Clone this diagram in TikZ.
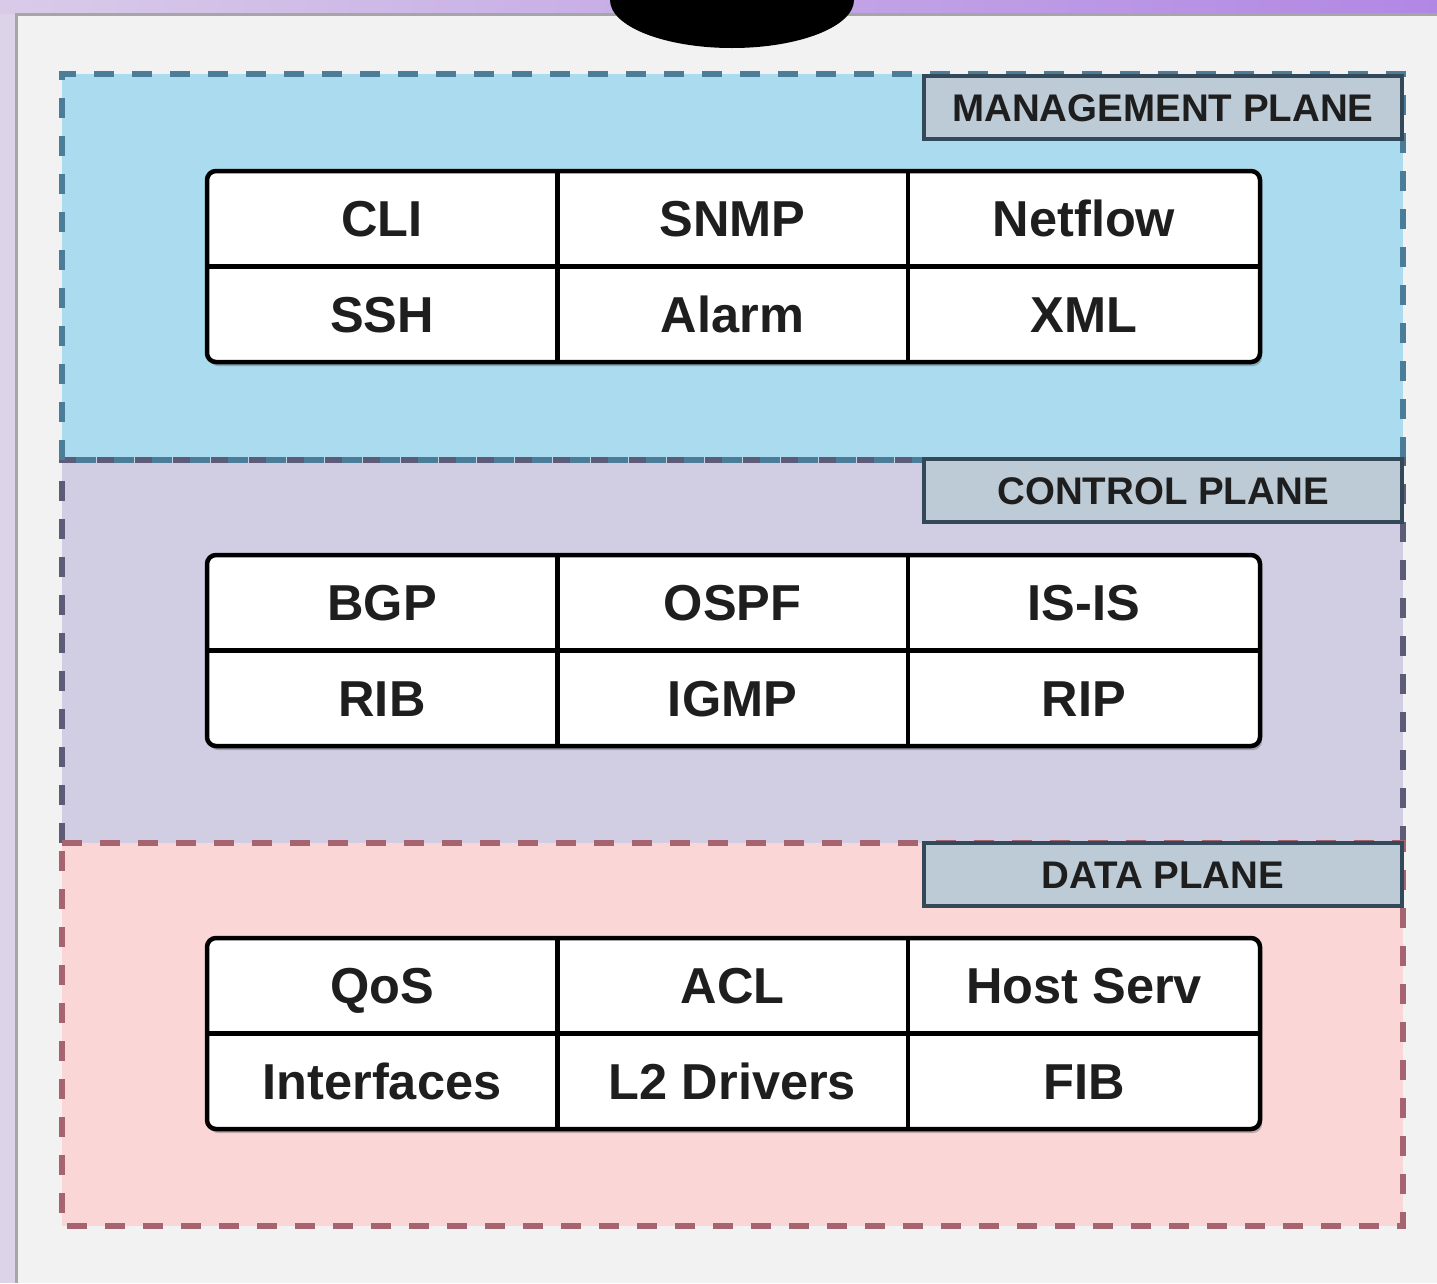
\documentclass[tikz,border=0pt]{standalone}
\usepackage{fontspec}
\setmainfont{Liberation Sans}
\usetikzlibrary{shadows}
\definecolor{frameL}{HTML}{DCD3E8}
\definecolor{stripL}{HTML}{D9CBE8}
\definecolor{stripR}{HTML}{B187E4}
\definecolor{panel}{HTML}{F2F2F2}
\definecolor{mgmtfill}{HTML}{AADBEE}
\definecolor{mgmtdash}{HTML}{4C7D98}
\definecolor{ctrlfill}{HTML}{D1CDE3}
\definecolor{ctrldash}{HTML}{5C5C78}
\definecolor{datafill}{HTML}{FAD6D6}
\definecolor{datadash}{HTML}{A5646F}
\definecolor{labfill}{HTML}{BDCBD7}
\definecolor{labline}{HTML}{33495A}
\definecolor{txt}{HTML}{1E1E1E}
\newcommand\mktable[8]{%
  % #1 prefix, #2 top y, #3..#8 labels
  \draw[tblframe] (207,#2) rectangle (1260,#2+191);
  \node[cell] (#1a) at (382,#2+47.5) {#3};
  \node[cell] (#1b) at (732.5,#2+47.5) {#4};
  \node[cell] (#1c) at (1084,#2+47.5) {#5};
  \node[cell] (#1d) at (382,#2+143) {#6};
  \node[cell] (#1e) at (732.5,#2+143) {#7};
  \node[cell] (#1f) at (1084,#2+143) {#8};
  \draw[tblline] (#1a.south west) -- (#1c.south east);
  \draw[tblline] (#1a.north east) -- (#1d.south east);
  \draw[tblline] (#1b.north east) -- (#1e.south east);
}
\begin{document}
\begin{tikzpicture}[x=1pt,y=-1pt,
  plane/.style={line width=6pt, dash pattern=on 20pt off 18pt},
  planelabel/.style={draw=labline, line width=4pt, fill=labfill, minimum width=478pt, minimum height=63pt, inner sep=0pt, text height=27.5pt, text depth=0pt, text=txt, font=\bfseries\fontsize{38.5}{42}\selectfont},
  tblframe/.style={draw=black, line width=4.5pt, fill=white, rounded corners=9pt,
    drop shadow={shadow xshift=2pt, shadow yshift=-4pt, opacity=0.35, fill=black!70}},
  tblline/.style={draw=black, line width=4.5pt},
  cell/.style={minimum width=351pt, minimum height=96pt, inner sep=0pt, text height=36pt, text depth=0pt, text=txt, font=\bfseries\fontsize{50.5}{60}\selectfont}
]
\useasboundingbox (0,0) rectangle (1437,1283);
\clip (0,0) rectangle (1437,1283);
% frame and panel
\fill[frameL] (0,0) rectangle (1437,1283);
\shade[left color=stripL, right color=stripR] (0,0) rectangle (1437,13);
\fill[panel] (16,13) rectangle (1437,1283);
\draw[gray!70, line width=3pt] (16.5,1283) -- (16.5,14.5) -- (1437,14.5);
% black ellipse at top
\fill[black] (732,0) ellipse [x radius=122, y radius=48];
% planes
\fill[mgmtfill] (62,74) rectangle (1403,460);
\fill[ctrlfill] (62,460) rectangle (1403,843);
\fill[datafill] (62,843) rectangle (1403,1226);
\draw[plane, draw=ctrldash] (62,843) -- (62,460) -- (1403,460) -- (1403,843);
\draw[plane, draw=mgmtdash] (62,460) -- (62,74) -- (1403,74) -- (1403,460) -- cycle;
\draw[plane, draw=datadash] (62,843) -- (1403,843) -- (1403,1226) -- (62,1226) -- cycle;
% labels
\node[planelabel] (mlab) at (1163,107.5) {MANAGEMENT PLANE};
\node[planelabel] (clab) at (1163,490.5) {CONTROL PLANE};
\node[planelabel] (dlab) at (1163,874.5) {DATA PLANE};
% tables
\mktable{m}{171}{CLI}{SNMP}{Netflow}{SSH}{Alarm}{XML}
\mktable{c}{555}{BGP}{OSPF}{IS-IS}{RIB}{IGMP}{RIP}
\mktable{d}{938}{QoS}{ACL}{Host Serv}{Interfaces}{L2 Drivers}{FIB}
\end{tikzpicture}
\end{document}
